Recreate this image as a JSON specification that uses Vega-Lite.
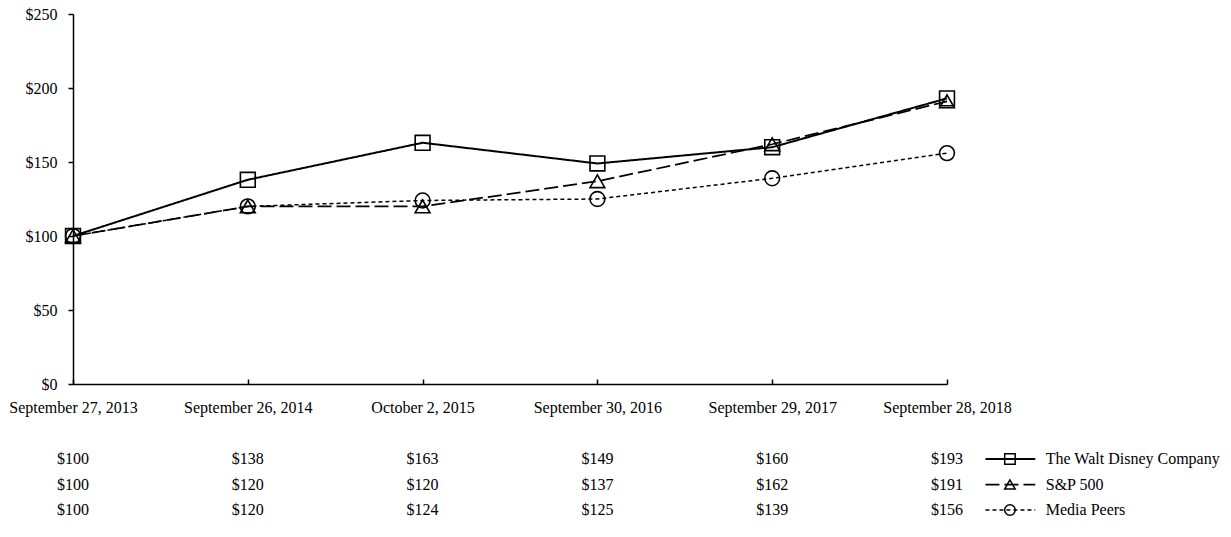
{
  "$schema": "https://vega.github.io/schema/vega-lite/v6.json",
  "background": "white",
  "padding": {"left": 8, "top": 6, "right": 5, "bottom": 5},
  "config": {
    "font": "Liberation Serif",
    "view": {"stroke": null},
    "axis": {"labelFont": "Liberation Serif", "labelFontSize": 16, "labelColor": "black", "domainColor": "black", "tickColor": "black", "grid": false, "title": null, "domainWidth": 1.5, "tickWidth": 1.5},
    "text": {"font": "Liberation Serif", "fontSize": 16, "color": "black"}
  },
  "datasets": {
    "ret": [
      {"series": "The Walt Disney Company", "date": "September 27, 2013", "idx": 0, "value": 100},
      {"series": "The Walt Disney Company", "date": "September 26, 2014", "idx": 1, "value": 138},
      {"series": "The Walt Disney Company", "date": "October 2, 2015", "idx": 2, "value": 163},
      {"series": "The Walt Disney Company", "date": "September 30, 2016", "idx": 3, "value": 149},
      {"series": "The Walt Disney Company", "date": "September 29, 2017", "idx": 4, "value": 160},
      {"series": "The Walt Disney Company", "date": "September 28, 2018", "idx": 5, "value": 193},
      {"series": "S&P 500", "date": "September 27, 2013", "idx": 0, "value": 100},
      {"series": "S&P 500", "date": "September 26, 2014", "idx": 1, "value": 120},
      {"series": "S&P 500", "date": "October 2, 2015", "idx": 2, "value": 120},
      {"series": "S&P 500", "date": "September 30, 2016", "idx": 3, "value": 137},
      {"series": "S&P 500", "date": "September 29, 2017", "idx": 4, "value": 162},
      {"series": "S&P 500", "date": "September 28, 2018", "idx": 5, "value": 191},
      {"series": "Media Peers", "date": "September 27, 2013", "idx": 0, "value": 100},
      {"series": "Media Peers", "date": "September 26, 2014", "idx": 1, "value": 120},
      {"series": "Media Peers", "date": "October 2, 2015", "idx": 2, "value": 124},
      {"series": "Media Peers", "date": "September 30, 2016", "idx": 3, "value": 125},
      {"series": "Media Peers", "date": "September 29, 2017", "idx": 4, "value": 139},
      {"series": "Media Peers", "date": "September 28, 2018", "idx": 5, "value": 156}
    ]
  },
  "vconcat": [
    {
      "width": 874,
      "height": 370,
      "data": {"name": "ret"},
      "encoding": {
        "x": {"field": "date", "type": "ordinal",
              "sort": ["September 27, 2013", "September 26, 2014", "October 2, 2015", "September 30, 2016", "September 29, 2017", "September 28, 2018"],
              "scale": {"type": "point", "padding": 0},
              "axis": {"labelAngle": 0, "tickSize": -5, "labelPadding": 20}},
        "y": {"field": "value", "type": "quantitative",
              "scale": {"domain": [0, 250], "nice": false},
              "axis": {"values": [0, 50, 100, 150, 200, 250], "format": "$d", "tickSize": 5, "labelPadding": 11}}
      },
      "layer": [
        {
          "mark": {"type": "line", "color": "black"},
          "encoding": {
            "order": {"field": "idx"},
            "strokeDash": {"field": "series", "type": "nominal",
              "scale": {"domain": ["The Walt Disney Company", "S&P 500", "Media Peers"], "range": [[1, 0], [14, 5], [4, 3]]}, "legend": null},
            "strokeWidth": {"field": "series", "type": "nominal",
              "scale": {"domain": ["The Walt Disney Company", "S&P 500", "Media Peers"], "range": [2, 1.5, 1.5]}, "legend": null}
          }
        },
        {
          "mark": {"type": "point", "filled": false, "color": "black", "size": 220, "strokeWidth": 1.6, "opacity": 1},
          "encoding": {
            "shape": {"field": "series", "type": "nominal",
              "scale": {"domain": ["The Walt Disney Company", "S&P 500", "Media Peers"], "range": ["square", "triangle-up", "circle"]}, "legend": null}
          }
        }
      ]
    },
    {
      "width": 874,
      "height": 51,
      "data": {"name": "ret"},
      "encoding": {
        "y": {"field": "series", "type": "nominal",
              "sort": ["The Walt Disney Company", "S&P 500", "Media Peers"],
              "scale": {"type": "point", "padding": 0}, "axis": null}
      },
      "layer": [
        {
          "mark": {"type": "text", "align": "center", "baseline": "middle"},
          "encoding": {
            "x": {"field": "idx", "type": "quantitative", "scale": {"domain": [0, 5], "nice": false, "zero": false}, "axis": null},
            "text": {"field": "value", "type": "quantitative", "format": "$d"}
          }
        },
        {
          "transform": [{"filter": "datum.idx == 0"}],
          "mark": {"type": "rule", "color": "black"},
          "encoding": {
            "x": {"datum": 5.22, "type": "quantitative"},
            "x2": {"datum": 5.505},
            "strokeDash": {"field": "series", "type": "nominal",
              "scale": {"domain": ["The Walt Disney Company", "S&P 500", "Media Peers"], "range": [[1, 0], [14, 5], [4, 3]]}, "legend": null},
            "strokeWidth": {"field": "series", "type": "nominal",
              "scale": {"domain": ["The Walt Disney Company", "S&P 500", "Media Peers"], "range": [2, 1.5, 1.5]}, "legend": null}
          }
        },
        {
          "transform": [{"filter": "datum.idx == 0"}],
          "mark": {"type": "point", "filled": false, "color": "black", "size": 110, "strokeWidth": 1.5, "opacity": 1},
          "encoding": {
            "x": {"datum": 5.36, "type": "quantitative"},
            "shape": {"field": "series", "type": "nominal",
              "scale": {"domain": ["The Walt Disney Company", "S&P 500", "Media Peers"], "range": ["square", "triangle-up", "circle"]}, "legend": null}
          }
        },
        {
          "transform": [{"filter": "datum.idx == 0"}],
          "mark": {"type": "text", "align": "left", "baseline": "middle"},
          "encoding": {
            "x": {"datum": 5.565, "type": "quantitative"},
            "text": {"field": "series", "type": "nominal"}
          }
        }
      ]
    }
  ],
  "spacing": 35,
  "resolve": {"scale": {"x": "independent", "y": "independent"}}
}
